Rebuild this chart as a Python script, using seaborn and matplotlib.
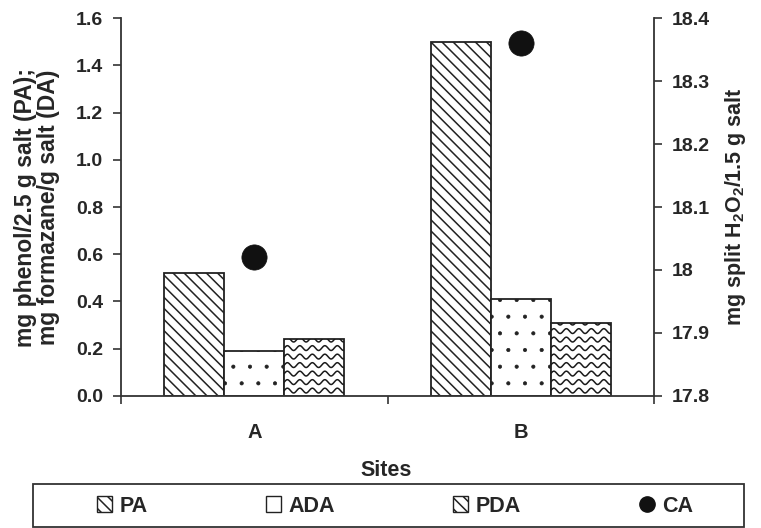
import numpy as np
import pandas as pd
import matplotlib
matplotlib.use("Agg")
import matplotlib.pyplot as plt
from matplotlib.patches import Patch, Rectangle
from matplotlib.lines import Line2D
import seaborn as sns

# values
sites = ["A", "B"]
enzymes = ["PA", "ADA", "PDA"]
pa = [0.52, 1.50]
ada = [0.19, 0.41]
pda = [0.24, 0.31]
ca = [18.02, 18.36]

left_ticks = [0.0, 0.2, 0.4, 0.6, 0.8, 1.0, 1.2, 1.4, 1.6]
left_labels = ["0.0", "0.2", "0.4", "0.6", "0.8", "1.0", "1.2", "1.4", "1.6"]
right_ticks = [17.8, 17.9, 18.0, 18.1, 18.2, 18.3, 18.4]
right_labels = ["17.8", "17.9", "18", "18.1", "18.2", "18.3", "18.4"]

sns.set_style("white")
plt.rcParams["font.family"] = ["Liberation Sans", "DejaVu Sans"]
plt.rcParams["font.weight"] = "bold"
plt.rcParams["mathtext.fontset"] = "custom"
plt.rcParams["mathtext.rm"] = "Liberation Sans:bold"
plt.rcParams["mathtext.bf"] = "Liberation Sans:bold"
plt.rcParams["mathtext.default"] = "bf"
plt.rcParams["hatch.linewidth"] = 1.1
plt.rcParams["hatch.color"] = "#1a1a1a"

df = pd.DataFrame({
    "site": sites * 3,
    "enzyme": np.repeat(enzymes, len(sites)),
    "value": pa + ada + pda,
})

fig = plt.figure(figsize=(7.61, 5.28), dpi=100)
ax = fig.add_axes([0.159, 0.2506, 0.7004, 0.7147])
ax2 = ax.twinx()

sns.barplot(data=df, x="site", y="value", hue="enzyme", order=sites,
            hue_order=enzymes, palette=["white"] * 3, edgecolor="#222222",
            linewidth=1.3, width=0.675, gap=0, errorbar=None, legend=False,
            saturation=1, ax=ax)

ax.set_xlim(-0.5, 1.5)
ax.set_ylim(0, 1.6)
ax.set_autoscale_on(False)

hatches = {"PA": "\\\\\\", "ADA": ".", "PDA": None}
for name, cont in zip(enzymes, ax.containers):
    for bar in cont:
        bar.set_facecolor("white")
        if hatches[name]:
            bar.set_hatch(hatches[name])
        if name == "ADA" and hasattr(bar, "set_hatch_linewidth"):
            bar.set_hatch_linewidth(0.5)


def add_waves(axis, patch, wavelength=12.5, amp=2.4, spacing=8.5):
    # wavy fill for the PDA bars, clipped to the bar
    p0 = axis.transData.transform((patch.get_x(), patch.get_y()))
    p1 = axis.transData.transform((patch.get_x() + patch.get_width(),
                                   patch.get_y() + patch.get_height()))
    xs = np.linspace(p0[0], p1[0], 300)
    for yc in np.arange(p0[1] + spacing * 0.6, p1[1] + spacing, spacing):
        ys = yc + amp * np.sin(2 * np.pi * (xs - p0[0]) / wavelength)
        pts = axis.transData.inverted().transform(np.column_stack([xs, ys]))
        ln, = axis.plot(pts[:, 0], pts[:, 1], color="#1a1a1a", lw=1.1, zorder=1.5)
        ln.set_clip_path(patch)


for bar in ax.containers[2]:
    add_waves(ax, bar)

# CA on the secondary axis
sns.scatterplot(x=np.arange(len(sites)), y=ca, color="#111111", s=330,
                edgecolor="#111111", linewidth=0.5, ax=ax2, zorder=5, legend=False)
ax2.set_ylim(17.8, 18.4)
ax2.set_xlim(-0.5, 1.5)

# axes styling
spine_col = "#333333"
for a in (ax, ax2):
    for s in a.spines.values():
        s.set_color(spine_col)
        s.set_linewidth(1.3)
    a.spines["top"].set_visible(False)
ax.spines["right"].set_visible(False)
ax2.spines["left"].set_visible(False)
ax2.spines["bottom"].set_visible(False)

ax.set_yticks(left_ticks)
ax.set_yticklabels(left_labels, fontsize=14, fontweight="bold")
ax.tick_params(axis="y", direction="out", length=6, width=1.2, color=spine_col, pad=7, left=True)

ax2.set_yticks(right_ticks)
ax2.set_yticklabels(right_labels, fontsize=14, fontweight="bold")
ax2.tick_params(axis="y", direction="out", length=6, width=1.2, color=spine_col, pad=7, right=True)

# category separators as major ticks, labels at the centres
ax.set_xticks([-0.5, 0.5, 1.5])
ax.set_xticklabels(["", "", ""])
ax.set_xticks(range(len(sites)), minor=True)
ax.set_xticklabels(sites, minor=True, fontsize=14.5, fontweight="bold")
ax.tick_params(axis="x", which="major", direction="out", length=6, width=1.2,
               color=spine_col, bottom=True)
ax.tick_params(axis="x", which="minor", length=0, pad=20)

ax.set_xlabel("Sites", fontsize=15.5, fontweight="bold")
ax.xaxis.set_label_coords(0.497, -0.197)
ax.xaxis.label.set_va("center")

ax.set_ylabel("mg phenol/2.5 g salt (PA);\nmg formazane/g salt (DA)",
              fontsize=16.5, fontweight="bold", linespacing=1.0)
ax.yaxis.set_label_coords(-0.158, 0.5)
ax.yaxis.label.set_va("center")

ax2.set_ylabel(r"mg split H$_2$O$_2$/1.5 g salt", fontsize=15.5, fontweight="bold")
ax2.yaxis.set_label_coords(1.152, 0.5)
ax2.yaxis.label.set_va("center")

# legend with an outer box like the original
fig.patches.append(Rectangle((33 / 761, 1 - 527 / 528), 711 / 761, 43 / 528,
                             transform=fig.transFigure, facecolor="none",
                             edgecolor="#333333", linewidth=1.3))
handles = [
    Patch(facecolor="white", edgecolor="#222222", hatch="\\\\\\", linewidth=1),
    Patch(facecolor="white", edgecolor="#222222", linewidth=1),
    Patch(facecolor="white", edgecolor="#222222", hatch="\\\\\\", linewidth=1),
    Line2D([], [], marker="o", linestyle="none", color="#111111", markersize=11),
]
fig.legend(handles, ["PA", "ADA", "PDA", "CA"], loc="center",
           bbox_to_anchor=(395 / 761, 1 - 506 / 528), ncol=4, frameon=False,
           prop={"size": 15.5, "weight": "bold"}, handlelength=0.7,
           handleheight=0.7, handletextpad=0.35, columnspacing=5.5)

fig.savefig("out.png", dpi=100)
